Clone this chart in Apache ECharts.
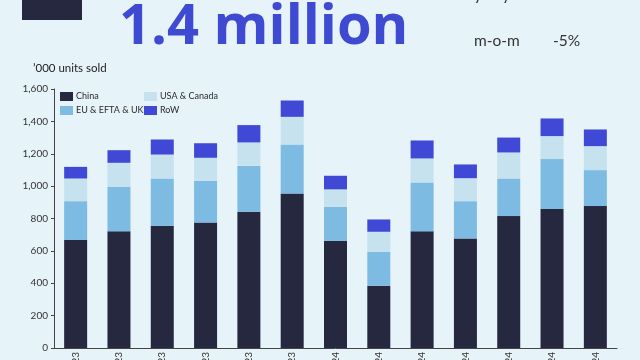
<!DOCTYPE html>
<html><head><meta charset="utf-8">
<script src="https://cdn.jsdelivr.net/npm/echarts@6/dist/echarts.min.js"></script>
<style>html,body{margin:0;padding:0;background:#e6f3f9;}#c{width:640px;height:360px;}</style>
</head><body><div id="c"></div>
<script>
const months = ['Jul 23','Aug 23','Sep 23','Oct 23','Nov 23','Dec 23','Jan 24','Feb 24','Mar 24','Apr 24','May 24','Jun 24','Jul 24'];
const china = [667, 722, 755, 776, 841, 955, 662, 385, 722, 677, 815, 858, 877];
const euEftaUk = [240, 274, 292, 257, 284, 302, 210, 210, 301, 230, 232, 309, 222];
const usaCanada = [140, 148, 148, 142, 145, 171, 108, 123, 148, 142, 161, 142, 148];
const row = [72, 78, 93, 90, 107, 101, 84, 76, 111, 85, 92, 109, 103];
const yTicks = [0, 200, 400, 600, 800, 1000, 1200, 1400, 1600];

const FONT = 'Lato';
const colors = {China:'#262840', EU:'#7dbbe3', USA:'#c6e2ef', RoW:'#4049d6'};
function leg(name, color, left, top){
  return {data:[{name:name, itemStyle:{color:color}}], left:left, top:top, orient:'horizontal',
    itemWidth:13, itemHeight:9, itemGap:4, icon:'rect',
    textStyle:{fontFamily:FONT, fontSize:9, color:'#2a2a2a', padding:[0,0,0,-2]}, padding:0};
}
const chart = echarts.init(document.getElementById('c'), null, {renderer:'canvas'});
chart.setOption({
  backgroundColor:'#e6f3f9',
  animation:false,
  grid:{left:54, right:23, top:89, bottom:12, containLabel:false, outerBoundsMode:'none'},
  legend:[
    leg('China', colors.China, 60, 92),
    leg('EU & EFTA & UK', colors.EU, 60, 106),
    leg('USA & Canada', colors.USA, 144, 92),
    leg('RoW', colors.RoW, 144, 106)
  ],
  graphic:[
    {type:'rect', left:22, top:0, shape:{width:60, height:20}, style:{fill:'#262840'}},
    {type:'text', x:119, y:0, style:{text:'1.4 million', font:'bold 56px "Open Sans"', fill:'#3f4ad3'}},
    {type:'text', x:474, y:33, style:{text:'m-o-m', font:'15.5px Lato', fill:'#333'}},
    {type:'text', x:553, y:33, style:{text:'-5%', font:'15.5px Lato', fill:'#333'}},
    {type:'text', x:474, y:-13, style:{text:'y-o-y', font:'15.5px Lato', fill:'#333'}},
    {type:'text', x:553, y:-13, style:{text:'+21%', font:'15.5px Lato', fill:'#333'}},
    {type:'text', x:33, y:62, style:{text:'\u2019000 units sold', font:'11.5px Lato', fill:'#222'}}
  ],
  xAxis:{type:'category', data:months,
    axisLine:{lineStyle:{color:'#444', width:1}},
    axisTick:{show:false},
    axisLabel:{rotate:90, fontFamily:FONT, fontSize:10, color:'#333', margin:4}},
  yAxis:{type:'value', min:0, max:1600, interval:200,
    axisLine:{show:true, lineStyle:{color:'#444'}},
    axisTick:{show:true, length:3, lineStyle:{color:'#444'}},
    splitLine:{show:false},
    axisLabel:{fontFamily:FONT, fontSize:10, color:'#333', margin:6,
      formatter:v=>yTicks.includes(v)?v.toLocaleString('en-US'):''}},
  series:[
    {name:'China', type:'bar', stack:'s', data:china, barWidth:23, itemStyle:{color:colors.China}},
    {name:'EU & EFTA & UK', type:'bar', stack:'s', data:euEftaUk, itemStyle:{color:colors.EU}},
    {name:'USA & Canada', type:'bar', stack:'s', data:usaCanada, itemStyle:{color:colors.USA}},
    {name:'RoW', type:'bar', stack:'s', data:row, itemStyle:{color:colors.RoW}}
  ]
});
</script></body></html>
